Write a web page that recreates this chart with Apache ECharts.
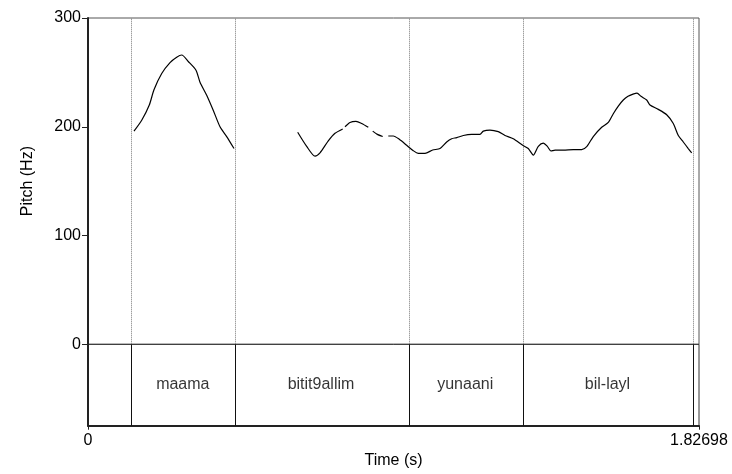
<!DOCTYPE html>
<html>
<head>
<meta charset="utf-8">
<script src="https://cdn.jsdelivr.net/npm/echarts@6/dist/echarts.min.js"></script>
<style>
html,body{margin:0;padding:0;background:#fff;}
#chart{width:732px;height:474px;}
</style>
</head>
<body>
<div id="chart"></div>
<script>
// ---- data ----
var timeMax = 1.82698;
var yTicks = [0, 100, 200, 300];
var xTickLabels = [0, 1.82698];
var boundaries = [0.1295, 0.4375, 0.956, 1.2998, 1.807];
var words = ['maama', 'bitit9allim', 'yunaani', 'bil-layl'];
var wordStarts = [0.1295, 0.4375, 0.956, 1.2998];
var wordEnds = [0.4375, 0.956, 1.2998, 1.807];
// pitch track (time s, pitch Hz); null = unvoiced gap
var pitchTimes = [
  0.1375,0.1606,0.1833,0.1973,0.2204,0.2452,0.2652,0.2802,0.2999,0.3229,0.3349,0.3549,0.3747,0.3947,0.4147,0.4366,
  0.5,
  0.6270,0.6539,0.6788,0.6937,0.7185,0.7386,0.7616,
  0.7650,
  0.7685,0.7834,0.8013,0.8184,0.8381,
  0.8450,
  0.8513,0.8651,0.8812,
  0.8900,
  0.8979,0.9129,0.9308,0.9529,0.9727,0.9876,1.0077,1.0307,1.0525,1.0725,1.0875,1.1025,1.1222,1.1473,1.1721,1.1820,
  1.2020,1.2268,1.2469,1.2717,1.2998,1.3165,1.3315,1.3465,1.3614,1.3734,1.3844,1.3964,1.4212,1.4511,1.4762,1.4912,
  1.5109,1.5360,1.5558,1.5707,1.5857,1.6006,1.6147,1.6296,1.6416,1.6535,1.6706,1.6804,1.7053,1.7304,1.7501,1.7651,
  1.7800,1.7949,1.8051
];
var pitchHz = [
  196,206,220,234,249,259,264,266,260,252,241,229,215,200,191,180,
  null,
  195,182,173,176,187,194,198,
  null,
  200,204,205,203,199.5,
  null,
  196,193,191,
  null,
  191.5,191.5,188.5,183,178,175.6,175.6,178.6,180,186,189,190,192,193,193,196,
  197,195.5,192,189,183,180,174,182,185,182,177.7,178.6,178.6,179,179,181.7,
  191,199.5,204,212,219,224.6,228,230,231,228,224.6,220,216,211,203,192,
  186,180,176
];

// ---- build ----
var pitchData = pitchTimes.map(function(t, i){
  return pitchHz[i] == null ? [t, '-'] : [t, pitchHz[i]];
});
var wordData = words.map(function(w, i){
  return {name: w, value: [(wordStarts[i] + wordEnds[i]) / 2, 0]};
});
var font = 'Liberation Sans, Arial, sans-serif';
var fs = 16;
var chart = echarts.init(document.getElementById('chart'));
chart.setOption({
  animation: false,
  backgroundColor: '#fff',
  textStyle: {fontFamily: font},
  grid: [
    {left: 88, right: 33, top: 18, height: 326.3, show: true, borderColor: '#555', borderWidth: 1, backgroundColor: 'transparent'},
    {left: 88, right: 33, top: 344.3, height: 81.4, show: true, borderColor: '#333', borderWidth: 1, backgroundColor: 'transparent'}
  ],
  xAxis: [
    {type: 'value', gridIndex: 0, min: 0, max: timeMax, show: false},
    {type: 'value', gridIndex: 1, min: 0, max: timeMax,
      name: 'Time (s)', nameLocation: 'middle', nameGap: 27,
      nameTextStyle: {color: '#000', fontSize: fs, fontFamily: font},
      axisLine: {show: true, onZero: false, lineStyle: {color: '#222', width: 2}},
      axisTick: {show: true, length: 4, inside: false, customValues: xTickLabels, lineStyle: {color: '#222', width: 1}},
      axisLabel: {show: true, customValues: xTickLabels, margin: 7, color: '#000', fontSize: fs, fontFamily: font,
        formatter: function(v){ return String(v); }},
      splitLine: {show: false}
    }
  ],
  yAxis: [
    {type: 'value', gridIndex: 0, min: 0, max: 300, interval: 100,
      name: 'Pitch (Hz)', nameLocation: 'middle', nameGap: 52, nameRotate: 90,
      nameTextStyle: {color: '#000', fontSize: fs, fontFamily: font},
      axisLine: {show: true, onZero: false, lineStyle: {color: '#222', width: 2}},
      axisTick: {show: true, length: 6, inside: false, lineStyle: {color: '#222', width: 1}},
      axisLabel: {show: true, margin: 7, color: '#000', fontSize: fs, fontFamily: font,
        customValues: yTicks},
      splitLine: {show: false}
    },
    {type: 'value', gridIndex: 1, min: -1, max: 1, show: true,
      axisLine: {show: true, onZero: false, lineStyle: {color: '#222', width: 2}},
      axisTick: {show: false}, axisLabel: {show: false}, splitLine: {show: false}
    }
  ],
  series: [
    {type: 'line', xAxisIndex: 0, yAxisIndex: 0, data: pitchData, showSymbol: false, symbol: 'none',
      connectNulls: false, smooth: 0.25, lineStyle: {color: '#000', width: 1.2}, silent: true, z: 5,
      markLine: {silent: true, symbol: ['none', 'none'], label: {show: false},
        lineStyle: {color: '#777', type: [1, 1], width: 1},
        data: boundaries.map(function(b){ return {xAxis: b}; })}
    },
    {type: 'scatter', xAxisIndex: 1, yAxisIndex: 1, data: wordData, symbolSize: 0, silent: true,
      label: {show: true, position: 'inside', formatter: '{b}', color: '#000', fontSize: fs, fontFamily: font},
      markLine: {silent: true, symbol: ['none', 'none'], label: {show: false},
        lineStyle: {color: '#111', type: 'solid', width: 1},
        data: boundaries.map(function(b){ return {xAxis: b}; })}
    }
  ]
});
</script>
</body>
</html>
